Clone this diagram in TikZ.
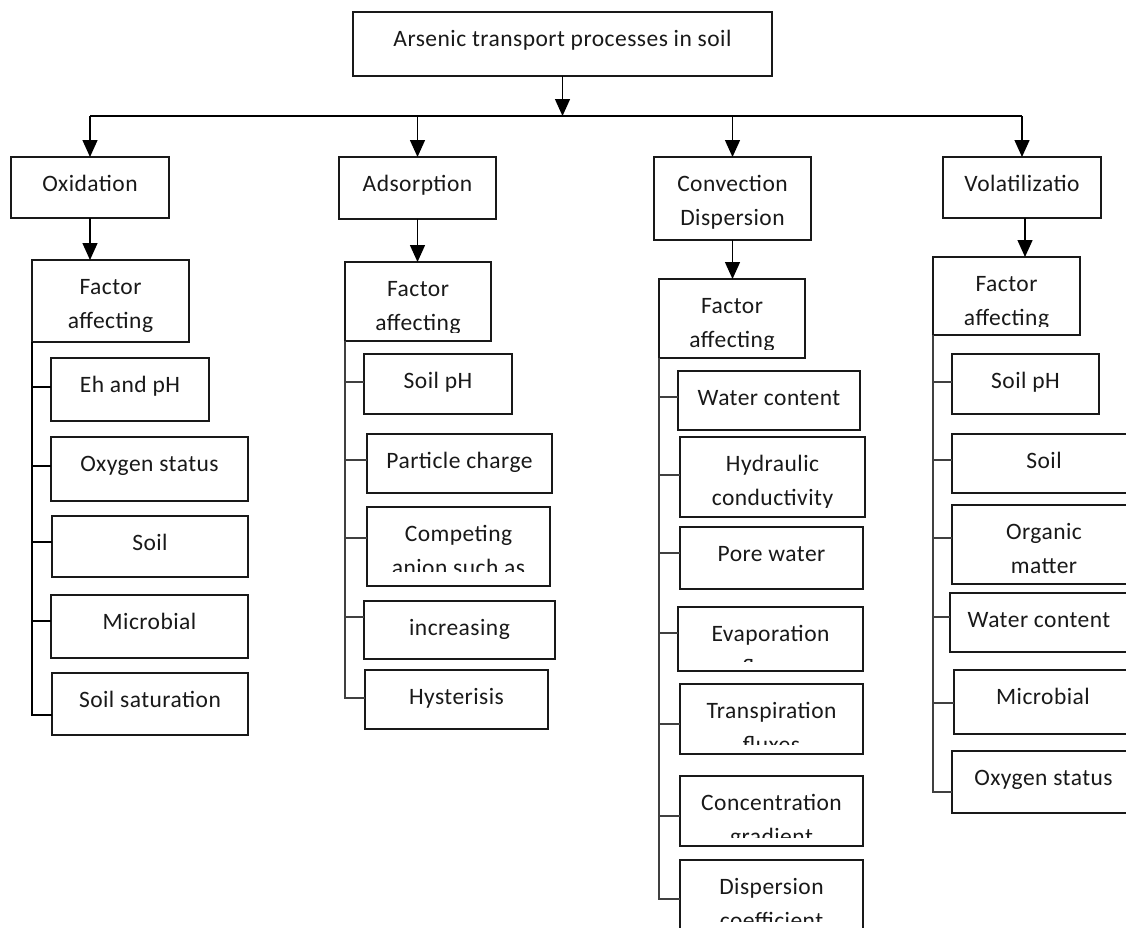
\documentclass[tikz,border=0pt]{standalone}
\usepackage{fontspec}
\setmainfont{Carlito}[LetterSpace=2]
\usetikzlibrary{arrows.meta}
\newcommand\lbfont{\fontsize{23.5}{28}\selectfont}
\tikzset{
  bx/.style={draw=black!90, line width=1.3pt, inner sep=0pt, outer sep=0pt, anchor=north west, rectangle},
  lbl/.style={draw=none, font=\lbfont, anchor=base, inner sep=0pt, minimum width=0pt, minimum height=0pt, text=black!90},
  arr/.style={draw=black, line width=1.4pt, -{Triangle[length=17pt 0 0,width=15pt 0 0]}},
  ln/.style={draw=black, line width=1.3pt},
  br/.style={draw=black!75, line width=1.3pt},
}
\newcommand\mybox[8]{%
  \node[bx, minimum width={(#4)-(#2)}, minimum height={(#5)-(#3)},
    path picture={
      \clip ([yshift=#8pt]path picture bounding box.south west) rectangle (path picture bounding box.north east);
      \node[lbl] at ([yshift=-34pt]path picture bounding box.north) {#6};
      \node[lbl] at ([yshift=-68pt]path picture bounding box.north) {#7};
    }] (#1) at (#2,#3) {};
}
\begin{document}
\begin{tikzpicture}[x=1pt,y=-1pt]
\clip (0,0) rectangle (1126,927);
\fill[white] (0,0) rectangle (1126,927);
% top
\mybox{top}{353}{12}{772}{76}{Arsenic transport processes in soil}{}{9}
% level 1
\mybox{ox}{11}{157}{169}{218}{Oxidation}{}{9}
\mybox{ad}{339}{157}{496}{219}{Adsorption}{}{9}
\mybox{cv}{654}{157}{811}{240}{Convection}{Dispersion}{9}
\mybox{vo}{943}{157}{1101}{218}{Volatilizatio}{}{9}
% factor boxes
\mybox{fo}{32}{260}{189}{342}{Factor}{affecting}{9}
\mybox{fa}{345}{262}{491}{341}{Factor}{affecting}{9}
\mybox{fc}{659}{279}{805}{358}{Factor}{affecting}{9}
\mybox{fv}{933}{257}{1080}{335}{Factor}{affecting}{9}
% oxidation factors
\mybox{o1}{51}{358}{209}{421}{Eh and pH}{}{9}
\mybox{o2}{51}{437}{248}{501}{Oxygen status}{}{9}
\mybox{o3}{52}{516}{248}{577}{Soil}{}{9}
\mybox{o4}{51}{595}{248}{658}{Microbial}{}{9}
\mybox{o5}{52}{673}{248}{735}{Soil saturation}{}{9}
% adsorption factors
\mybox{a1}{364}{354}{512}{414}{Soil pH}{}{9}
\mybox{a2}{367}{434}{552}{493}{Particle charge}{}{9}
\mybox{a3}{367}{507}{550}{586}{Competing}{anion such as}{15}
\mybox{a4}{364}{601}{555}{659}{increasing}{}{9}
\mybox{a5}{365}{670}{548}{729}{Hysterisis}{}{9}
% convection factors
\mybox{c1}{678}{371}{860}{430}{Water content}{}{9}
\mybox{c2}{680}{437}{865}{517}{Hydraulic}{conductivity}{10}
\mybox{c3}{680}{527}{863}{589}{Pore water}{}{9}
\mybox{c4}{678}{607}{863}{671}{Evaporation}{fluxes}{10}
\mybox{c5}{680}{684}{863}{754}{Transpiration}{fluxes}{10}
\mybox{c6}{680}{776}{863}{846}{Concentration}{gradient}{9}
\mybox{c7}{680}{860}{863}{940}{Dispersion}{coefficient}{19}
% volatilization factors
\mybox{v1}{952}{354}{1099}{414}{Soil pH}{}{9}
\mybox{v2}{952}{434}{1136}{493}{Soil}{}{9}
\mybox{v3}{952}{505}{1136}{584}{Organic}{matter}{9}
\mybox{v4}{950}{593}{1128}{652}{Water content}{}{9}
\mybox{v5}{954}{670}{1132}{734}{Microbial}{}{9}
\mybox{v6}{952}{751}{1135}{813}{Oxygen status}{}{9}
% main connectors
\coordinate (bar) at (0,116);
\coordinate (oxb) at (ox.north |- bar);
\coordinate (adb) at (ad.north |- bar);
\coordinate (cvb) at (cv.north |- bar);
\coordinate (vob) at (vo.north |- bar);
\coordinate (topb) at (top.south |- bar);
\draw[ln] (oxb) -- (vob);
\draw[arr] (top.south) -- (topb);
\draw[arr] (oxb) -- (ox.north);
\draw[arr] (adb) -- (ad.north);
\draw[arr] (cvb) -- (cv.north);
\draw[arr] (vob) -- (vo.north);
% to factor boxes
\draw[arr] (ox.south) -- (ox.south |- fo.north);
\draw[arr] (ad.south) -- (ad.south |- fa.north);
\draw[arr] (cv.south) -- (cv.south |- fc.north);
\draw[arr] ([xshift=3pt]vo.south) -- ([xshift=3pt]vo.south |- fv.north);
% oxidation branch
\draw[ln] (fo.south west) |- (o5.west |- 0,715);
\draw[ln] (fo.west |- 0,387) -- (o1.west |- 0,387);
\draw[ln] (fo.west |- 0,466) -- (o2.west |- 0,466);
\draw[ln] (fo.west |- 0,542) -- (o3.west |- 0,542);
\draw[ln] (fo.west |- 0,621) -- (o4.west |- 0,621);
% adsorption branch
\draw[br] (fa.south west) |- (a5.west |- 0,698);
\draw[br] (fa.west |- 0,382) -- (a1.west |- 0,382);
\draw[br] (fa.west |- 0,460) -- (a2.west |- 0,460);
\draw[br] (fa.west |- 0,538) -- (a3.west |- 0,538);
\draw[br] (fa.west |- 0,617) -- (a4.west |- 0,617);
% convection branch
\draw[br] (fc.south west) |- (c7.west |- 0,899);
\draw[br] (fc.west |- 0,397) -- (c1.west |- 0,397);
\draw[br] (fc.west |- 0,475) -- (c2.west |- 0,475);
\draw[br] (fc.west |- 0,553) -- (c3.west |- 0,553);
\draw[br] (fc.west |- 0,633) -- (c4.west |- 0,633);
\draw[br] (fc.west |- 0,724) -- (c5.west |- 0,724);
\draw[br] (fc.west |- 0,816) -- (c6.west |- 0,816);
% volatilization branch
\draw[br] (fv.south west) |- (v6.west |- 0,792);
\draw[br] (fv.west |- 0,382) -- (v1.west |- 0,382);
\draw[br] (fv.west |- 0,460) -- (v2.west |- 0,460);
\draw[br] (fv.west |- 0,538) -- (v3.west |- 0,538);
\draw[br] (fv.west |- 0,617) -- (v4.west |- 0,617);
\draw[br] (fv.west |- 0,703) -- (v5.west |- 0,703);
\end{tikzpicture}
\end{document}
